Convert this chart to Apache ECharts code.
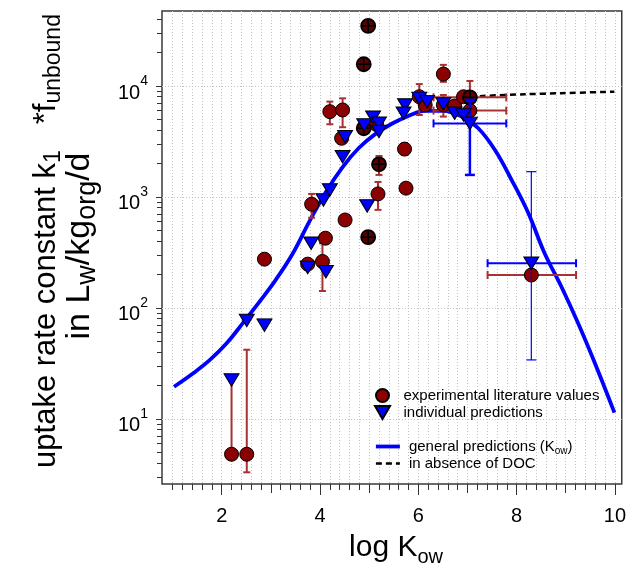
<!DOCTYPE html>
<html>
<head>
<meta charset="utf-8">
<script src="https://cdn.jsdelivr.net/npm/echarts@6/dist/echarts.min.js"></script>
<style>
  html, body { margin: 0; padding: 0; background: #fff; }
  #chart { width: 629px; height: 567px; }
</style>
</head>
<body>
<div id="chart"></div>
<script>
const FONT = '"Liberation Sans", Arial, sans-serif';

// [log Kow, k1*fu]
const expValues = [
  [2.20, 4.8], [2.51, 4.8], [2.87, 275], [3.75, 248], [3.83, 860], [4.05, 262],
  [4.11, 425], [4.20, 5870], [4.44, 3380], [4.46, 6080], [4.51, 620], [5.15, 4500],
  [5.18, 1065], [5.72, 2700], [5.75, 1200], [6.02, 8000], [6.14, 6750], [6.51, 12800],
  [6.51, 6750], [6.74, 6600], [6.92, 8000], [7.05, 6000], [8.30, 198]
];
// experimental points drawn with a cross
const expMarked = [
  [4.89, 4160], [4.89, 15700], [4.98, 34800], [4.98, 434], [5.20, 1970], [7.05, 7900]
];
const predValues = [
  [2.20, 22.4], [2.51, 77], [2.87, 70], [3.75, 231], [3.82, 383], [4.12, 212],
  [4.07, 940], [4.20, 1155], [4.46, 2300], [4.51, 3490], [4.96, 830], [4.90, 4460],
  [5.08, 5220], [5.20, 4610], [5.20, 3900], [5.73, 6740], [5.70, 5680], [6.02, 7740],
  [6.18, 7230], [6.51, 6880], [6.74, 5680], [6.92, 5480], [7.05, 4600], [8.30, 253]
];
const generalCurve = [
  [1.03, 19.5], [1.42, 25.8], [1.76, 34], [2.10, 48], [2.43, 73], [2.77, 114],
  [3.11, 182], [3.44, 306], [3.78, 596], [4.12, 1110], [4.46, 1860], [4.79, 2760],
  [5.13, 3700], [5.47, 4590], [5.80, 5370], [6.14, 5960], [6.48, 5960], [6.89, 5280],
  [7.22, 4160], [7.56, 2650], [7.90, 1420], [8.24, 713], [8.57, 311], [8.91, 156],
  [9.25, 73], [9.59, 32], [9.99, 11.4]
];
const noDocCurve = [[7.05, 8010], [7.76, 8300], [8.57, 8530], [9.25, 8700], [9.99, 8890]];

// error bars: [center, low, high]
const expErrY = [
  [2.20, 4.8, 22], [2.51, 3.3, 42], [3.83, 650, 1065], [4.05, 142, 383],
  [4.20, 4520, 7230], [4.46, 4250, 7740], [4.98, 383, 487], [5.18, 765, 1365],
  [5.20, 1580, 2340], [5.72, 2390, 3050], [6.02, 5480, 10400], [6.51, 10900, 15500],
  [6.51, 5300, 8300], [7.05, 6000, 11100]
];
const expErrX = [[7900, 6.31, 7.79], [6000, 6.31, 7.79], [198, 7.41, 9.21]];
const predErrY = [[7.05, 1580, 7480]];
const predErrYOutlier = [[8.30, 34, 1690]];
const predErrX = [[4600, 6.31, 7.79], [253, 7.41, 9.21]];

const xLabelTicks = [2, 4, 6, 8, 10];
const xMidTicks = [3, 5, 7, 9];
const xMinorTicks = [];
for (let i = 10; i <= 100; i += 2) xMinorTicks.push(i / 10);
const yDecades = [10, 100, 1000, 10000];
const yMinorTicks = [];
[1, 10, 100, 1000, 10000].forEach(d => {
  for (let k = 2; k <= 9; k++) yMinorTicks.push(k * d);
});

const X_MIN = 0.785, X_MAX = 10.14, Y_MIN = 2.59, Y_MAX = 47400;

const DOWN_TRI = 'path://M0,0L10,0L5,8.66Z';
const PLUS = 'path://M4.3,0H5.7V4.3H10V5.7H5.7V10H4.3V5.7H0V4.3H4.3Z';
const RED = '#8b0000';
const RED_BAR = '#a83232';
const BLUE = '#0000ff';
const TICK = '#333';

function errBar(horizontal, color, width, cap) {
  return function (params, api) {
    const c = api.value(0), lo = api.value(1), hi = api.value(2);
    const a = horizontal ? api.coord([lo, c]) : api.coord([c, lo]);
    const b = horizontal ? api.coord([hi, c]) : api.coord([c, hi]);
    const st = { stroke: color, lineWidth: width };
    const capLine = p => horizontal
      ? { type: 'line', shape: { x1: p[0], y1: p[1] - cap, x2: p[0], y2: p[1] + cap }, style: st }
      : { type: 'line', shape: { x1: p[0] - cap, y1: p[1], x2: p[0] + cap, y2: p[1] }, style: st };
    return {
      type: 'group',
      children: [
        { type: 'line', shape: { x1: a[0], y1: a[1], x2: b[0], y2: b[1] }, style: st },
        capLine(a), capLine(b)
      ]
    };
  };
}

function errSeries(data, horizontal, color, width, cap, z) {
  return {
    type: 'custom',
    data: data,
    z: z,
    silent: true,
    dimensions: horizontal ? ['y', 'lo', 'hi'] : ['x', 'lo', 'hi'],
    encode: horizontal ? { y: 0, x: [1, 2] } : { x: 0, y: [1, 2] },
    renderItem: errBar(horizontal, color, width, cap)
  };
}

// subscripts: main text centred in a taller line, subscript pinned to its bottom
function subRich(size, subSize, drop) {
  return {
    m: { fontSize: size, lineHeight: size + 2 * drop, verticalAlign: 'middle', fill: '#000', color: '#000', fontFamily: FONT },
    s: { fontSize: subSize, lineHeight: subSize, verticalAlign: 'bottom', fill: '#000', color: '#000', fontFamily: FONT }
  };
}

const chart = echarts.init(document.getElementById('chart'));

const xBase = { type: 'value', min: X_MIN, max: X_MAX, position: 'bottom', axisLine: { show: false } };
const yBase = { type: 'log', logBase: 10, min: Y_MIN, max: Y_MAX, position: 'left', axisLine: { show: false } };
const gridLine = { show: true, lineStyle: { color: '#c4c4c4', width: 1, type: [1, 2] } };

const option = {
  animation: false,
  backgroundColor: '#fff',
  textStyle: { fontFamily: FONT },
  grid: {
    left: 162, right: 5, top: 11, bottom: 83,
    show: true, borderColor: '#3a3a3a', borderWidth: 1.5, backgroundColor: 'transparent'
  },
  xAxis: [
    Object.assign({}, xBase, {
      axisTick: { customValues: xMinorTicks, length: 6, lineStyle: { color: TICK } },
      splitLine: gridLine,
      axisLabel: { customValues: xLabelTicks, fontSize: 20, color: '#000', margin: 22, fontFamily: FONT }
    }),
    Object.assign({}, xBase, {
      axisTick: { customValues: xMidTicks, length: 9, lineStyle: { color: TICK } },
      splitLine: { show: false }, axisLabel: { show: false }
    }),
    Object.assign({}, xBase, {
      axisTick: { customValues: xLabelTicks, length: 11, lineStyle: { color: TICK } },
      splitLine: { show: false }, axisLabel: { show: false }
    })
  ],
  yAxis: [
    Object.assign({}, yBase, {
      axisTick: { customValues: yDecades, length: 6, lineStyle: { color: TICK } },
      splitLine: gridLine,
      axisLabel: {
        customValues: yDecades,
        margin: 14,
        padding: [5, 0, 0, 0],
        formatter: v => '{b|10}{s|' + Math.round(Math.log10(v)) + '}',
        rich: {
          b: { fontSize: 20, lineHeight: 29, verticalAlign: 'bottom', color: '#000', fontFamily: FONT },
          s: { fontSize: 14, lineHeight: 14, verticalAlign: 'top', color: '#000', fontFamily: FONT }
        }
      }
    }),
    Object.assign({}, yBase, {
      axisTick: { customValues: yMinorTicks, length: 5, lineStyle: { color: TICK } },
      splitLine: { show: false }, axisLabel: { show: false }
    })
  ],
  legend: [
    {
      data: ['experimental literature values', 'individual predictions'],
      orient: 'vertical', left: 369, top: 383,
      itemWidth: 24, itemHeight: 13, itemGap: 2,
      selectedMode: false,
      textStyle: { fontSize: 15, color: '#000', fontFamily: FONT, padding: [0, 0, 0, 4] }
    },
    {
      data: [
        { name: 'general predictions (Kow)', lineStyle: { width: 3.8 } },
        { name: 'in absence of DOC', lineStyle: { width: 2.5 } }
      ],
      orient: 'vertical', left: 369, top: 434,
      itemWidth: 24, itemHeight: 13, itemGap: 0,
      selectedMode: false,
      itemStyle: { opacity: 0 },
      formatter: n => n === 'general predictions (Kow)' ? '{m|general predictions (K}{s|ow}{m|)}' : '{m|' + n + '}',
      textStyle: {
        fontSize: 15, color: '#000', fontFamily: FONT, padding: [0, 0, 0, 4],
        rich: subRich(15, 10, 2)
      }
    }
  ],
  graphic: [
    {
      type: 'text', x: 396, y: 548,
      style: { text: '{m|log K}{s|ow}', align: 'center', verticalAlign: 'middle', rich: subRich(30, 20, 4) }
    },
    {
      type: 'text', x: 46, y: 241, rotation: Math.PI / 2,
      style: {
        text: '{m|uptake rate constant k}{s|1}{m|   *f}{s|unbound}',
        align: 'center', verticalAlign: 'middle', rich: subRich(31, 23, 4)
      }
    },
    {
      type: 'text', x: 80, y: 246, rotation: Math.PI / 2,
      style: {
        text: '{m|in L}{s|w}{m|/kg}{s|org}{m|/d}',
        align: 'center', verticalAlign: 'middle', rich: subRich(34, 27, 4)
      }
    }
  ],
  series: [
    {
      name: 'general predictions (Kow)', type: 'line', data: generalCurve,
      smooth: 0.4, symbol: 'none', z: 2, silent: true,
      itemStyle: { color: BLUE },
      lineStyle: { color: BLUE, width: 3.8 }
    },
    {
      name: 'in absence of DOC', type: 'line', data: noDocCurve,
      smooth: true, symbol: 'none', z: 2, silent: true,
      itemStyle: { color: '#000' },
      lineStyle: { color: '#000', width: 2.5, type: [6, 4] }
    },
    errSeries(expErrY, false, RED_BAR, 2, 3.5, 3),
    errSeries(expErrX, true, RED_BAR, 2, 4, 3),
    {
      name: 'experimental literature values', type: 'scatter', data: expValues,
      symbol: 'circle', symbolSize: 14, z: 4,
      itemStyle: { color: RED, borderColor: '#000', borderWidth: 1, opacity: 1 }
    },
    {
      name: 'experimental (marked)', type: 'scatter', data: expMarked,
      symbol: 'circle', symbolSize: 14, z: 4,
      itemStyle: { color: '#5a0000', borderColor: '#000', borderWidth: 1.8, opacity: 1 }
    },
    {
      name: 'experimental (cross)', type: 'scatter', data: expMarked,
      symbol: PLUS, symbolSize: 12, z: 5,
      itemStyle: { color: '#000', opacity: 1 }
    },
    errSeries(predErrY, false, BLUE, 2.5, 5, 6),
    errSeries(predErrYOutlier, false, BLUE, 1.2, 5, 6),
    errSeries(predErrX, true, BLUE, 2, 4, 6),
    {
      name: 'individual predictions', type: 'scatter', data: predValues,
      symbol: DOWN_TRI, symbolSize: [15, 12.5], z: 7,
      itemStyle: { color: BLUE, borderColor: '#000', borderWidth: 1, opacity: 1 }
    }
  ]
};

chart.setOption(option);
</script>
</body>
</html>
